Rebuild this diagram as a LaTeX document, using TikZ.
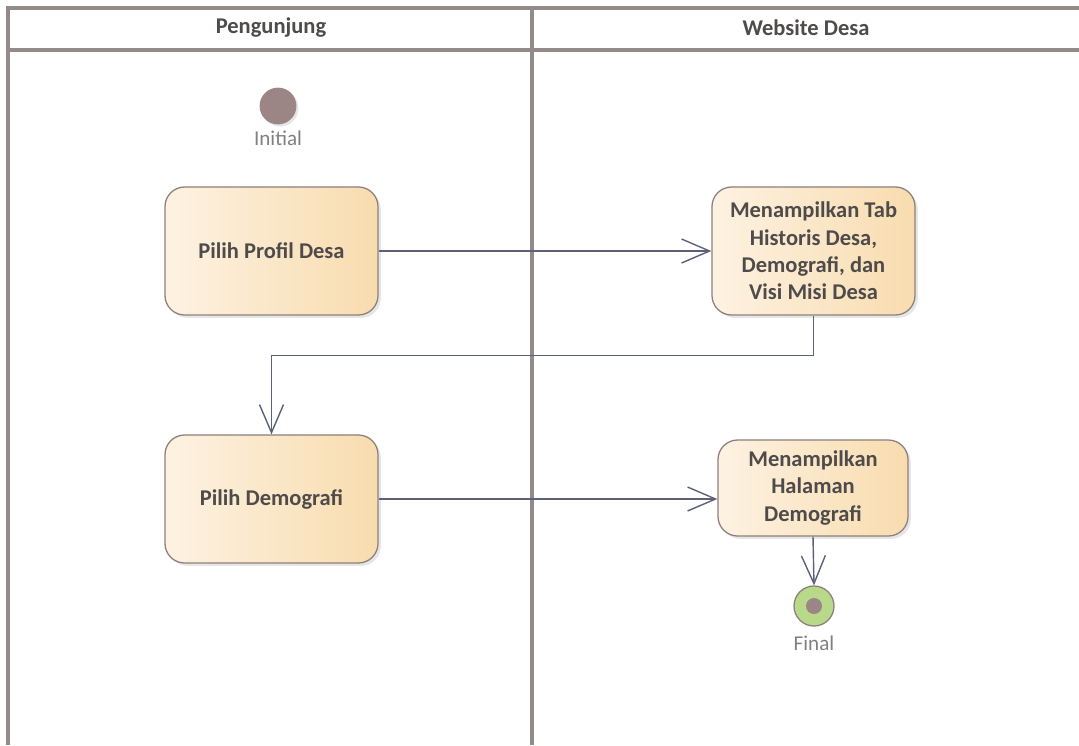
\documentclass[tikz,border=0pt]{standalone}
\usepackage{fontspec}
\setmainfont{Carlito}
\usetikzlibrary{arrows.meta,shadows}

\definecolor{lanegray}{HTML}{938A8A}
\definecolor{boxlight}{HTML}{FDF2E2}
\definecolor{boxdark}{HTML}{F8DCAE}
\definecolor{boxline}{HTML}{8E7F7C}
\definecolor{flowline}{HTML}{5C6178}
\definecolor{txtgray}{HTML}{4F4B4B}
\definecolor{startfill}{HTML}{9C8585}
\definecolor{endfill}{HTML}{B8D98A}

\begin{document}
\begin{tikzpicture}[x=0.025cm,y=-0.025cm,
  lane/.style={lanegray,line width=2.4pt},
  lanetitle/.style={font=\fontsize{16}{19.5}\selectfont\bfseries,text=txtgray},
  action/.style={draw=boxline,line width=0.9pt,rounded corners=14pt,
    left color=boxlight,right color=boxdark,align=center,
    font=\fontsize{16}{19.5}\selectfont\bfseries,text=txtgray,
    drop shadow={opacity=0.2,shadow xshift=2pt,shadow yshift=-2pt}},
  flow/.style={flowline,line width=1pt,-{Straight Barb[length=7mm,width=6mm,line width=1pt]}},
  tag/.style={font=\fontsize{15}{18}\selectfont,text=gray}]
  \useasboundingbox (0,0) rectangle (1079,745) ;
  % swimlanes
  \draw[lane] (8,745) -- (8,8) -- (1085,8) ;
  \draw[lane] (8,50) -- (1085,50) ;
  \draw[lane] (532,8) -- (532,745) ;
  \node[lanetitle] (lane1) at (271,28) {Pengunjung} ;
  \node[lanetitle] (lane2) at (806,28) {Website Desa} ;
  % start / end
  \node[circle,fill=startfill,minimum size=0.92cm,inner sep=0pt,
    drop shadow={opacity=0.2,shadow xshift=1.5pt,shadow yshift=-1.5pt}]
    (init) at (278,106) {} ;
  \node[tag] (initlbl) at (278,138) {Initial} ;
  \node[circle,draw=boxline,line width=0.9pt,fill=endfill,minimum size=1cm,inner sep=0pt]
    (final) at (814,606) {} ;
  \node[circle,fill=startfill,minimum size=0.4cm,inner sep=0pt] (finaldot) at (final) {} ;
  \node[tag] (finallbl) at (814,643) {Final} ;
  % actions
  \node[action,minimum width=5.325cm,minimum height=3.2cm] (profil) at (271.5,251) {Pilih Profil Desa} ;
  \node[action,minimum width=5.075cm,minimum height=3.2cm] (tab) at (813.5,251)
    {Menampilkan Tab\\Historis Desa,\\Demografi, dan\\Visi Misi Desa} ;
  \node[action,minimum width=5.325cm,minimum height=3.2cm] (demo) at (271.5,499) {Pilih Demografi} ;
  \node[action,minimum width=4.75cm,minimum height=2.4cm] (halaman) at (813,488)
    {Menampilkan\\Halaman\\Demografi} ;
  % flows
  \draw[flow] (profil.east) -- (tab.west) ;
  \draw[flow] (tab.south) -- ++(0,40) -| (demo.north) ;
  \draw[flow] (demo.east) -- (demo.east -| halaman.west) ;
  \draw[flow] (halaman.south) -- (final.north) ;
\end{tikzpicture}
\end{document}
